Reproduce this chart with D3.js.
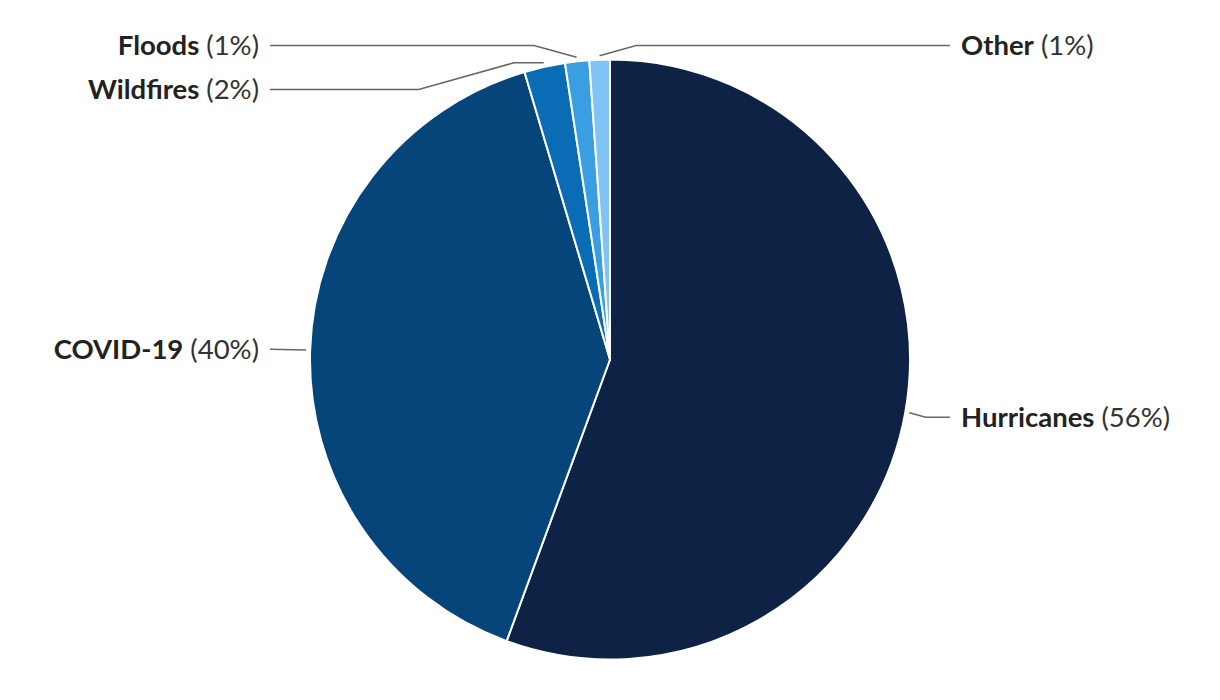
<!DOCTYPE html>
<html>
<head>
<meta charset="utf-8">
<script src="https://cdn.jsdelivr.net/npm/d3@7"></script>
<style>
  body { margin: 0; background: #fff; }
  text { font-family: Lato, "Open Sans", sans-serif; }
</style>
</head>
<body>
<script>
// slice data, clockwise from 12 o'clock
const categories = ["Hurricanes", "COVID-19", "Wildfires", "Floods", "Other"];
const shares = [55.6, 39.8, 2.2, 1.3, 1.1];
const colors = ["#0d2245", "#06457a", "#0a6cb5", "#3b9de2", "#80c3f5"];

const w = 1220, h = 700;
const cx = 610, cy = 359.5, r = 300;
const labelGap = 40;      // pie edge -> connector end
const labelSpacing = 44;

const data = categories.map((c, i) => ({ name: c, value: shares[i], color: colors[i] }));
const total = d3.sum(shares);

const svg = d3.select("body").append("svg")
  .attr("width", w)
  .attr("height", h);

const pie = d3.pie().sort(null).value(d => d.value);
const arcs = pie(data);
const arc = d3.arc().innerRadius(0).outerRadius(r);

const g = svg.append("g").attr("transform", "translate(" + cx + "," + cy + ")");

g.selectAll("path.slice")
  .data(arcs)
  .enter()
  .append("path")
  .attr("class", "slice")
  .attr("d", arc)
  .attr("fill", d => d.data.color)
  .attr("stroke", "#fff")
  .attr("stroke-width", 2)
  .attr("stroke-linejoin", "round");

// label layout
const labels = arcs.map(d => {
  const a = (d.startAngle + d.endAngle) / 2;
  return {
    d: d,
    angle: a,
    // slices right at the top go to the right side (less crowded)
    right: Math.sin(a) >= -0.05,
    ax: Math.sin(a) * (r + 4),
    ay: -Math.cos(a) * (r + 4),
    y: -Math.cos(a) * (r + 30)
  };
});

const topY = -r - 14;
[true, false].forEach(side => {
  const group = labels.filter(l => l.right === side).sort((a, b) => a.y - b.y);
  let last = -Infinity;
  group.forEach(l => {
    l.y = Math.max(l.y, topY, last + labelSpacing);
    last = l.y;
  });
});

labels.forEach(l => {
  const dir = l.right ? 1 : -1;
  const lx = dir * (r + labelGap);
  const dy = Math.abs(l.y - l.ay);
  const pts = [[l.ax, l.ay]];
  let bx = l.ax;
  if (dy > 20) {
    // pushed labels get a short horizontal stub first
    bx = l.ax + dir * 30;
    pts.push([bx, l.ay]);
  }
  const span = Math.min(Math.max(dy * 3.6, 14), 95);
  let crookX = bx + dir * span;
  if (dir * (crookX - lx) > 0) crookX = lx - dir * 2;
  if (dy > 1) pts.push([crookX, l.y]);
  pts.push([lx, l.y]);

  g.append("path")
    .attr("d", d3.line()(pts))
    .attr("fill", "none")
    .attr("stroke", "#666")
    .attr("stroke-width", 1.5);

  const t = g.append("text")
    .attr("x", lx + dir * 11)
    .attr("y", l.y + 9.5)
    .attr("text-anchor", l.right ? "start" : "end")
    .attr("font-size", 27.5)
    .attr("fill", "#222");
  t.append("tspan").attr("font-weight", "bold").text(l.d.data.name);
  t.append("tspan").attr("fill", "#333")
    .text(" (" + Math.round(l.d.data.value / total * 100) + "%)");
});
</script>
</body>
</html>
